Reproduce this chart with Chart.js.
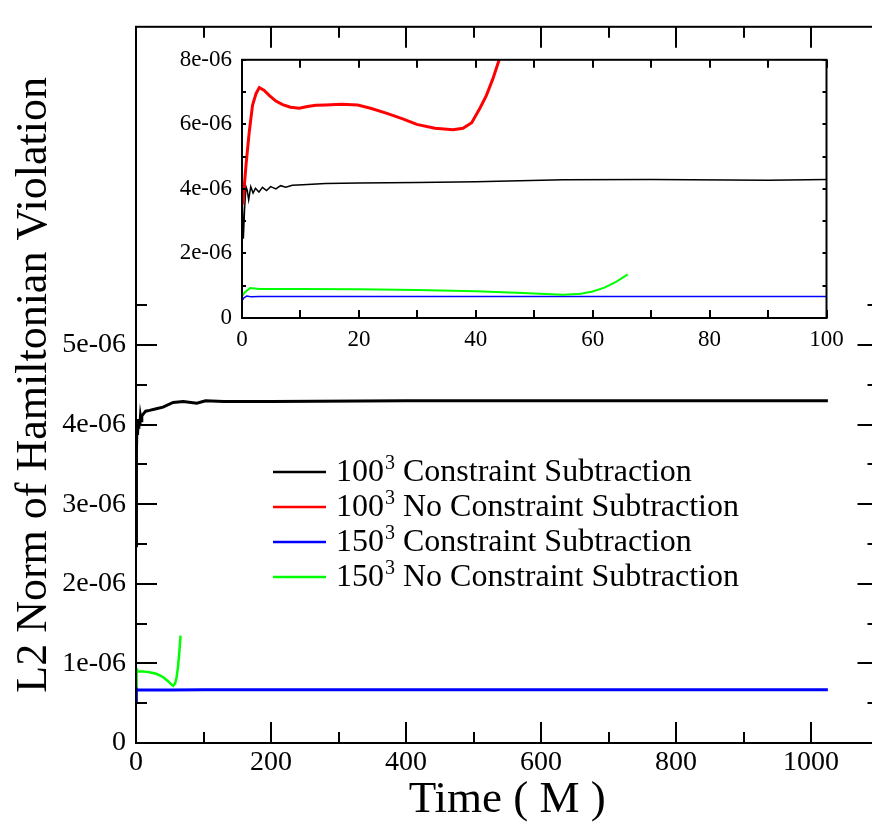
<!DOCTYPE html>
<html lang="en">
<head>
  <meta charset="UTF-8">
  <title>L2 Norm of Hamiltonian Violation</title>
  <script src="https://cdn.jsdelivr.net/npm/chart.js"></script>
  <style>
    html, body {
      margin: 0;
      padding: 0;
      background: #fff;
      overflow: hidden;
    }
    .wrap {
      position: relative;
      width: 872px;
      height: 823px;
      overflow: hidden;
    }
    #mainChart {
      position: absolute;
      left: 0;
      top: 0;
    }
    #insetChart {
      position: absolute;
      left: 150px;
      top: 36px;
    }
  </style>
</head>
<body>

  <div class="wrap">
    <canvas id="mainChart" width="880" height="823"></canvas>
    <canvas id="insetChart" width="710" height="320"></canvas>
  </div>

  <script>
    const serif = "'Liberation Serif', 'Times New Roman', serif";
    Chart.defaults.font.family = serif;
    Chart.defaults.color = '#000';

    const seriesNames = ['100³ Constraint Subtraction', '100³ No Constraint Subtraction',
                         '150³ Constraint Subtraction', '150³ No Constraint Subtraction'];
    const seriesColors = ['#000000', '#ff0000', '#0000ff', '#00ff00'];

    // time in M, violation values
    const blackTime = [0, 0.23, 0.45, 0.68, 0.9, 1.14, 1.5, 1.9, 2.3, 2.9, 3.5, 4.2, 4.9, 5.8, 6.6, 7.5,
                       8.6, 10.4, 14.3, 20, 30, 40, 55, 70, 90, 103, 130, 200, 400, 600, 800, 1025];
    const blackVal = [4.0e-6, 2.46e-6, 3.4e-6, 4.07e-6, 3.95e-6, 3.66e-6, 4.07e-6, 3.87e-6, 4.02e-6, 3.9e-6,
                      4.05e-6, 3.95e-6, 4.07e-6, 4.0e-6, 4.1e-6, 4.05e-6, 4.11e-6, 4.13e-6, 4.17e-6, 4.18e-6,
                      4.2e-6, 4.22e-6, 4.28e-6, 4.29e-6, 4.27e-6, 4.3e-6, 4.29e-6, 4.29e-6, 4.3e-6, 4.3e-6,
                      4.3e-6, 4.3e-6];

    const redTime = [0, 0.2, 0.7, 1.25, 1.8, 2.4, 2.96, 3.8, 4.7, 5.8, 6.95, 8.3, 9.8, 11.2, 12.65, 14.3,
                     17, 19.8, 22, 24.8, 27.5, 29.9, 33, 36.1, 37.8, 39.3, 40.7, 41.8, 42.9, 44, 45.2];
    const redVal = [3.75e-6, 3.66e-6, 4.77e-6, 5.78e-6, 6.59e-6, 6.95e-6, 7.14e-6, 7.05e-6, 6.89e-6, 6.72e-6,
                    6.61e-6, 6.53e-6, 6.5e-6, 6.55e-6, 6.59e-6, 6.6e-6, 6.62e-6, 6.6e-6, 6.5e-6, 6.34e-6,
                    6.17e-6, 6.0e-6, 5.88e-6, 5.83e-6, 5.88e-6, 6.05e-6, 6.5e-6, 6.89e-6, 7.4e-6, 8.0e-6, 8.8e-6];

    const blueTime = [0, 0.3, 0.8, 1.5, 3, 10, 50, 100, 200, 400, 600, 800, 1025];
    const blueVal = [0.53e-6, 0.62e-6, 0.68e-6, 0.66e-6, 0.67e-6, 0.665e-6, 0.665e-6, 0.67e-6, 0.67e-6,
                     0.67e-6, 0.67e-6, 0.67e-6, 0.67e-6];

    const greenTime = [0, 0.5, 1.4, 3, 10, 20, 30, 40, 47, 52, 55, 58, 60, 62, 64, 66];
    const greenVal = [0.68e-6, 0.8e-6, 0.93e-6, 0.9e-6, 0.9e-6, 0.89e-6, 0.87e-6, 0.83e-6, 0.78e-6, 0.74e-6,
                      0.72e-6, 0.75e-6, 0.82e-6, 0.94e-6, 1.12e-6, 1.35e-6];

    const mainXTicks = [0, 200, 400, 600, 800, 1000];
    const mainYTicks = [0, 1e-6, 2e-6, 3e-6, 4e-6, 5e-6];
    const insetXTicks = [0, 20, 40, 60, 80, 100];
    const insetYTicks = [0, 2e-6, 4e-6, 6e-6, 8e-6];

    const pairs = (t, v) => t.map((x, i) => ({ x: x, y: v[i] }));

    function sciLabel(v) {
      if (Math.abs(v) < 1e-12) return '0';
      return v.toExponential(0).replace(/e([+-])(\d)$/, 'e$10$2');
    }

    // keep only the listed tick values
    function keepTicks(list) {
      return function (scale) {
        scale.ticks = list.map(v => ({ value: v }));
      };
    }

    // inward ticks on all four sides plus the frame
    const frameTicks = {
      id: 'frameTicks',
      afterDraw(chart, args, o) {
        const { ctx, chartArea: a, scales: { x, y } } = chart;
        ctx.save();
        ctx.strokeStyle = '#000';
        ctx.lineWidth = 2;
        ctx.strokeRect(a.left, a.top, a.right - a.left, a.bottom - a.top);
        ctx.beginPath();
        for (let i = 0; ; i++) {
          const v = x.min + i * o.xStep;
          if (v > x.max + 1e-9) break;
          const len = i % o.xEvery === 0 ? o.xMajor : o.xMinor;
          const p = Math.round(x.getPixelForValue(v));
          ctx.moveTo(p, a.bottom); ctx.lineTo(p, a.bottom - len);
          ctx.moveTo(p, a.top); ctx.lineTo(p, a.top + len);
        }
        for (let i = 0; ; i++) {
          const v = y.min + i * o.yStep;
          if (v > Math.min(y.max, o.yLimit) * (1 + 1e-9)) break;
          const len = i % o.yEvery === 0 ? o.yMajor : o.yMinor;
          const p = Math.round(y.getPixelForValue(v));
          ctx.moveTo(a.left, p); ctx.lineTo(a.left + len, p);
          ctx.moveTo(a.right, p); ctx.lineTo(a.right - len, p);
        }
        ctx.stroke();
        ctx.restore();
      }
    };

    // legend drawn inside the plot, with superscript 3
    const innerLegend = {
      id: 'innerLegend',
      afterDraw(chart, args, o) {
        if (!o.show) return;
        const ctx = chart.ctx;
        ctx.save();
        chart.data.datasets.forEach((ds, i) => {
          const yy = o.y + i * o.dy;
          ctx.strokeStyle = ds.borderColor;
          ctx.lineWidth = 2.5;
          ctx.beginPath();
          ctx.moveTo(o.x, yy);
          ctx.lineTo(o.x + o.len, yy);
          ctx.stroke();
          const parts = ds.label.split('³');
          let tx = o.x + o.len + o.gap;
          const by = yy + o.size * 0.27;
          ctx.fillStyle = '#000';
          ctx.textBaseline = 'alphabetic';
          ctx.textAlign = 'left';
          ctx.font = o.size + 'px ' + serif;
          ctx.fillText(parts[0], tx, by);
          tx += ctx.measureText(parts[0]).width;
          ctx.font = Math.round(o.size * 0.62) + 'px ' + serif;
          ctx.fillText('3', tx + 1, by - o.size * 0.36);
          tx += ctx.measureText('3').width + 1;
          ctx.font = o.size + 'px ' + serif;
          ctx.fillText(parts[1], tx, by);
        });
        ctx.restore();
      }
    };

    new Chart(document.getElementById('mainChart').getContext('2d'), {
      type: 'line',
      data: {
        datasets: [
          { label: seriesNames[0], data: pairs(blackTime, blackVal), borderColor: seriesColors[0], borderWidth: 3 },
          { label: seriesNames[1], data: [], borderColor: seriesColors[1], borderWidth: 3 },
          { label: seriesNames[2], data: pairs(blueTime, blueVal), borderColor: seriesColors[2], borderWidth: 3 },
          { label: seriesNames[3], data: pairs(greenTime, greenVal), borderColor: seriesColors[3], borderWidth: 2.5 }
        ]
      },
      options: {
        responsive: false,
        animation: false,
        events: [],
        elements: { point: { radius: 0 }, line: { tension: 0 } },
        layout: { padding: { top: 12, right: 1.5, left: 0, bottom: 0 } },
        plugins: {
          legend: { display: false },
          tooltip: { enabled: false },
          frameTicks: { xStep: 100, xEvery: 2, xMajor: 21, xMinor: 11,
                        yStep: 5e-7, yEvery: 2, yMajor: 21, yMinor: 11, yLimit: 5.5e-6 },
          innerLegend: { show: true, x: 273, y: 472, dy: 35, len: 53, gap: 10, size: 32 }
        },
        scales: {
          x: {
            type: 'linear',
            min: 0,
            max: 1100,
            afterBuildTicks: keepTicks(mainXTicks),
            afterFit: s => { s.height = 80; },
            grid: { display: false, drawTicks: false },
            border: { display: false },
            ticks: { autoSkip: false, maxRotation: 0, padding: 3, font: { size: 28 }, callback: v => String(v) },
            title: { display: true, text: 'Time ( M )', font: { size: 45, lineHeight: 1 }, padding: { top: 0, bottom: 0 } }
          },
          y: {
            min: 0,
            max: 9e-6,
            afterBuildTicks: keepTicks(mainYTicks),
            afterFit: s => { s.width = 136; },
            grid: { display: false, drawTicks: false },
            border: { display: false },
            ticks: { autoSkip: false, padding: 10, font: { size: 28 }, callback: v => sciLabel(v) },
            title: { display: true, text: 'L2 Norm of Hamiltonian Violation', font: { size: 44, lineHeight: 1 }, padding: { top: 12, bottom: 0 } }
          }
        }
      },
      plugins: [frameTicks, innerLegend]
    });

    new Chart(document.getElementById('insetChart').getContext('2d'), {
      type: 'line',
      data: {
        datasets: [
          { label: seriesNames[1], data: pairs(redTime, redVal), borderColor: seriesColors[1], borderWidth: 3 },
          { label: seriesNames[0], data: pairs(blackTime, blackVal), borderColor: seriesColors[0], borderWidth: 1.5 },
          { label: seriesNames[3], data: pairs(greenTime, greenVal), borderColor: seriesColors[3], borderWidth: 2 },
          { label: seriesNames[2], data: pairs(blueTime, blueVal), borderColor: seriesColors[2], borderWidth: 1.5 }
        ]
      },
      options: {
        responsive: false,
        animation: false,
        events: [],
        elements: { point: { radius: 0 }, line: { tension: 0 } },
        layout: { padding: { top: 17, right: 33.5, left: 0, bottom: 0 } },
        plugins: {
          legend: { display: false },
          tooltip: { enabled: false },
          frameTicks: { xStep: 10, xEvery: 1, xMajor: 8, xMinor: 8,
                        yStep: 1e-6, yEvery: 1, yMajor: 4, yMinor: 4, yLimit: 1 },
          innerLegend: { show: false }
        },
        scales: {
          x: {
            type: 'linear',
            min: 0,
            max: 100,
            afterBuildTicks: keepTicks(insetXTicks),
            afterFit: s => { s.height = 38; },
            grid: { display: false, drawTicks: false },
            border: { display: false },
            ticks: { autoSkip: false, maxRotation: 0, padding: 8, font: { size: 23 }, callback: v => String(v) }
          },
          y: {
            min: 0,
            max: 8e-6,
            afterBuildTicks: keepTicks(insetYTicks),
            afterFit: s => { s.width = 92; },
            grid: { display: false, drawTicks: false },
            border: { display: false },
            ticks: { autoSkip: false, padding: 10, font: { size: 23 }, callback: v => sciLabel(v) }
          }
        }
      },
      plugins: [frameTicks, innerLegend]
    });
  </script>

</body>
</html>
